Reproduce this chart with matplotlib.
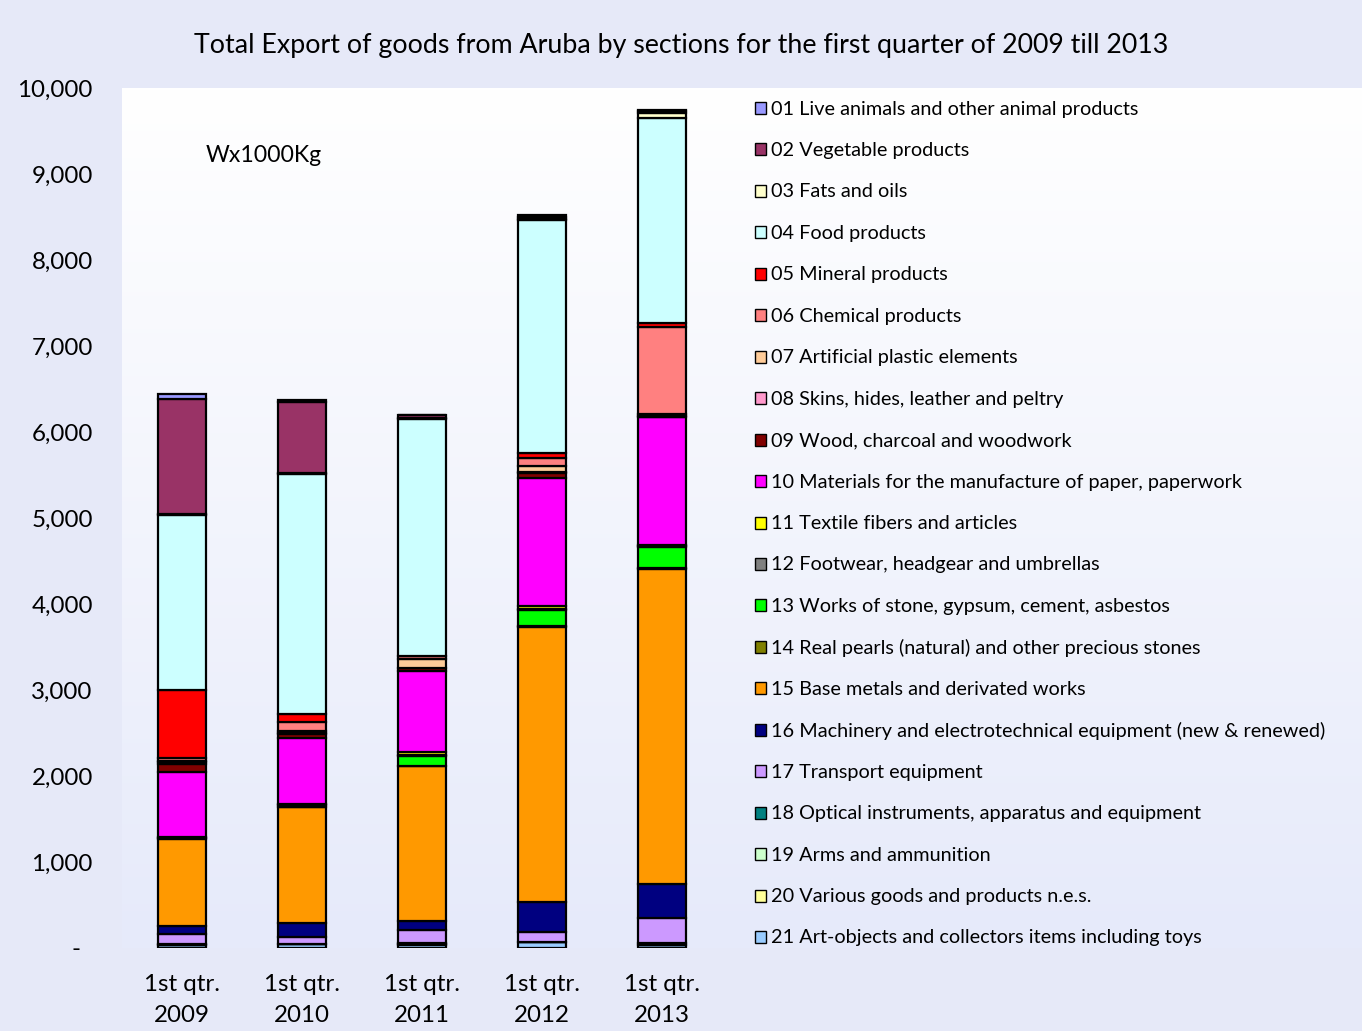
import numpy as np
import matplotlib
matplotlib.use("Agg")
import matplotlib.pyplot as plt
from matplotlib.patches import Rectangle
from matplotlib.colors import LinearSegmentedColormap

plt.rcParams['font.family'] = ['Lato', 'DejaVu Sans']

categories = ["1st qtr.\n2009", "1st qtr.\n2010", "1st qtr.\n2011", "1st qtr.\n2012", "1st qtr.\n2013"]

labels = [
    "01 Live animals and other animal products",
    "02 Vegetable products",
    "03 Fats and oils",
    "04 Food products",
    "05 Mineral products",
    "06 Chemical products",
    "07 Artificial plastic elements",
    "08 Skins, hides, leather and peltry",
    "09 Wood, charcoal and woodwork",
    "10 Materials for the manufacture of paper, paperwork",
    "11 Textile fibers and articles",
    "12 Footwear, headgear and umbrellas",
    "13 Works of stone, gypsum, cement, asbestos",
    "14 Real pearls (natural) and other precious stones",
    "15 Base metals and derivated works",
    "16 Machinery and electrotechnical equipment (new & renewed)",
    "17 Transport equipment",
    "18 Optical instruments, apparatus and equipment",
    "19 Arms and ammunition",
    "20 Various goods and products n.e.s.",
    "21 Art-objects and collectors items including toys",
]

colors = ["#9999FF", "#993366", "#FFFFCC", "#CCFFFF", "#FF0000", "#FF8080",
          "#FFCC99", "#FF99CC", "#800000", "#FF00FF", "#FFFF00", "#808080",
          "#00FF00", "#808000", "#FF9900", "#000080", "#CC99FF", "#008080",
          "#CCFFCC", "#FFFF99", "#99CCFF"]

# values per section (x1000 kg), years 2009..2013
s01 = [55, 20, 5, 25, 15]
s02 = [1340, 830, 35, 20, 20]
s03 = [5, 5, 10, 10, 60]
s04 = [2040, 2795, 2760, 2715, 2380]
s05 = [795, 90, 0, 50, 50]
s06 = [25, 110, 35, 100, 1005]
s07 = [20, 15, 95, 70, 30]
s08 = [20, 20, 0, 10, 5]
s09 = [90, 40, 35, 50, 10]
s10 = [755, 765, 945, 1490, 1480]
s11 = [5, 10, 35, 35, 20]
s12 = [5, 5, 10, 10, 10]
s13 = [10, 20, 115, 190, 245]
s14 = [5, 10, 0, 10, 5]
s15 = [1010, 1345, 1805, 3195, 3665]
s16 = [100, 160, 105, 350, 395]
s17 = [110, 80, 150, 115, 290]
s18 = [10, 5, 10, 5, 20]
s19 = [0, 0, 5, 0, 0]
s20 = [0, 0, 5, 0, 0]
s21 = [40, 45, 40, 70, 40]

series = [s01, s02, s03, s04, s05, s06, s07, s08, s09, s10, s11, s12, s13,
          s14, s15, s16, s17, s18, s19, s20, s21]

yticks = [0, 1000, 2000, 3000, 4000, 5000, 6000, 7000, 8000, 9000, 10000]
ytick_labels = ["-  ", "1,000", "2,000", "3,000", "4,000", "5,000", "6,000",
                "7,000", "8,000", "9,000", "10,000"]

W, H = 1362, 1031
fig = plt.figure(figsize=(W / 100, H / 100), dpi=100)
fig.patch.set_facecolor("#E6E9F8")

ax = fig.add_axes([122 / W, 1 - 948 / H, (W - 122) / W, (948 - 88) / H])
xlim = (-0.5, (W - 182) / 120)
ax.set_xlim(*xlim)

# gradient background of plot area (white at top, lavender at bottom)
grad = np.linspace(0, 1, 256).reshape(-1, 1)
cmap = LinearSegmentedColormap.from_list("bg", ["#FFFFFF", "#E6EAFA"])
ax.imshow(grad, extent=[xlim[0], xlim[1], 0, 10000], origin="upper",
          aspect="auto", cmap=cmap, zorder=0)
ax.set_xlim(*xlim)
ax.set_ylim(0, 10000)

x = np.arange(len(categories))
bottom = np.zeros(len(categories))
for vals, col in zip(series[::-1], colors[::-1]):
    v = np.array(vals, dtype=float)
    ax.bar(x, v, 0.4, bottom=bottom, color=col, edgecolor="black",
           linewidth=1.6, zorder=2)
    bottom += v

for s in ax.spines.values():
    s.set_visible(False)
ax.set_yticks(yticks)
ax.set_yticklabels(ytick_labels, fontsize=17.4)
ax.set_xticks(x)
ax.set_xticklabels(categories, fontsize=17.4, linespacing=1.56)
ax.tick_params(axis="both", length=0)
ax.tick_params(axis="y", pad=21)
ax.tick_params(axis="x", pad=19)

ax.text(206 / W, 1 - 155 / H, "Wx1000Kg", transform=fig.transFigure,
        fontsize=16.6, va="center", ha="left")

fig.text(0.5, 1 - 45 / H,
         "Total Export of goods from Aruba by sections for the first quarter of 2009 till 2013",
         ha="center", va="center", fontsize=19.3)

# legend
for i, (lab, col) in enumerate(zip(labels, colors)):
    yc = 108 + i * 41.45
    fig.add_artist(Rectangle((755 / W, 1 - (yc + 6) / H), 11 / W, 12 / H,
                             transform=fig.transFigure, facecolor=col,
                             edgecolor="black", linewidth=1.0))
    fig.text(771 / W, 1 - (yc + 1) / H, lab, fontsize=14.3, va="center", ha="left")

fig.savefig("out.png", dpi=100, facecolor=fig.get_facecolor())
